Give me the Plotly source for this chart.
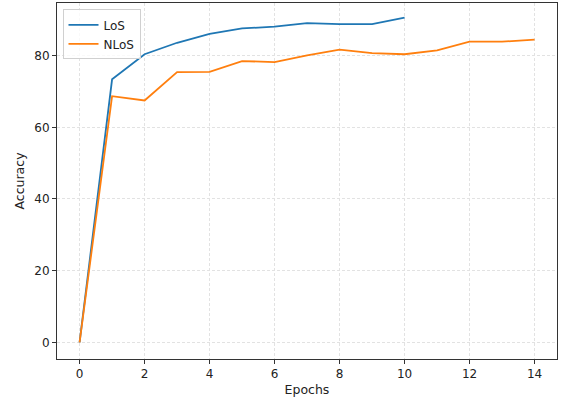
import plotly.graph_objects as go

epochs_los = [0, 1, 2, 3, 4, 5, 6, 7, 8, 9, 10]
acc_los = [0, 73.4, 80.4, 83.6, 86.1, 87.6, 88.1, 89.1, 88.8, 88.8, 90.6]
epochs_nlos = [0, 1, 2, 3, 4, 5, 6, 7, 8, 9, 10, 11, 12, 13, 14]
acc_nlos = [0, 68.7, 67.5, 75.4, 75.5, 78.5, 78.2, 80.1, 81.7, 80.7, 80.4, 81.5, 83.9, 83.9, 84.5]
x_ticks = [0, 2, 4, 6, 8, 10, 12, 14]
y_ticks = [0, 20, 40, 60, 80]

FONT = "DejaVu Sans"

fig = go.Figure()
fig.add_trace(go.Scatter(x=epochs_los, y=acc_los, mode="lines", name="LoS",
                         line=dict(color="#1f77b4", width=1.8)))
fig.add_trace(go.Scatter(x=epochs_nlos, y=acc_nlos, mode="lines", name="NLoS",
                         line=dict(color="#ff7f0e", width=1.8)))

axis_common = dict(
    showgrid=True, gridcolor="#e2e2e2", griddash="3px,2px", gridwidth=1,
    zeroline=False, showline=True, linecolor="#333", linewidth=1, mirror=True,
    ticks="outside", ticklen=4, tickcolor="#333", tickwidth=1,
    tickfont=dict(family=FONT, size=12, color="#222"),
)
fig.update_xaxes(range=[-0.695, 14.69], tickvals=x_ticks,
                 title=dict(text="Epochs", font=dict(family=FONT, size=12.5, color="#222"), standoff=4),
                 **axis_common)
fig.update_yaxes(range=[-4.66, 94.7], tickvals=y_ticks,
                 title=dict(text="Accuracy", font=dict(family=FONT, size=12.5, color="#222"), standoff=6),
                 **axis_common)

fig.update_layout(
    width=566, height=403,
    margin=dict(l=57, r=9, t=3, b=44),
    plot_bgcolor="white", paper_bgcolor="white",
    font=dict(family=FONT, size=12, color="#222"),
    legend=dict(x=0.011, y=0.982, xanchor="left", yanchor="top",
                bgcolor="rgba(255,255,255,0.8)", bordercolor="#d0d0d0", borderwidth=1,
                font=dict(family=FONT, size=12, color="#222"),
                itemwidth=30, tracegroupgap=0),
    showlegend=True,
)

fig.write_html("out.html")
